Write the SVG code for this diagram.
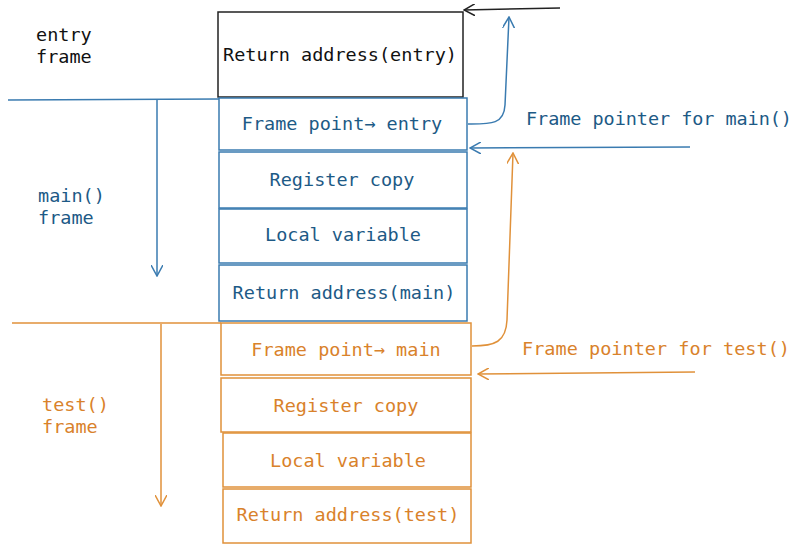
<svg xmlns="http://www.w3.org/2000/svg" width="800" height="549" viewBox="0 0 800 549">
<style>
text{font-family:"DejaVu Sans Mono","Liberation Mono",monospace;font-size:18.5px}
.k{fill:#111} .b{fill:#1d5a86} .o{fill:#d9822b}
.kb{fill:none;stroke:#222;stroke-width:1.5}
.bb{fill:none;stroke:#3a7bb0;stroke-width:1.5}
.ob{fill:none;stroke:#e0913a;stroke-width:1.5}
.m{text-anchor:middle}
</style>
<defs>
<marker id="ak" viewBox="0 0 12 12" refX="11" refY="6" markerWidth="12" markerHeight="12" markerUnits="userSpaceOnUse" orient="auto"><path d="M0,0 L11,6 L0,12" fill="none" stroke="#222" stroke-width="1.5"/></marker>
<marker id="ab" viewBox="0 0 12 12" refX="11" refY="6" markerWidth="12" markerHeight="12" markerUnits="userSpaceOnUse" orient="auto"><path d="M0,0 L11,6 L0,12" fill="none" stroke="#3a7bb0" stroke-width="1.5"/></marker>
<marker id="ao" viewBox="0 0 12 12" refX="11" refY="6" markerWidth="12" markerHeight="12" markerUnits="userSpaceOnUse" orient="auto"><path d="M0,0 L11,6 L0,12" fill="none" stroke="#e0913a" stroke-width="1.5"/></marker>
</defs>
<g id="labels">
<text class="k" x="36" y="41">entry</text><text class="k" x="36" y="63">frame</text>
<text class="b" x="38" y="202">main()</text><text class="b" x="38" y="224">frame</text>
<text class="o" x="42" y="411">test()</text><text class="o" x="42" y="433">frame</text>
<text class="b" x="526" y="125" textLength="266">Frame pointer for main()</text>
<text class="o" x="522" y="355" textLength="268">Frame pointer for test()</text>
</g>
<g id="n0"><rect class="kb" x="218" y="12" width="245" height="85"/><text class="k m" x="340" y="61">Return address(entry)</text></g>
<g id="n1"><rect class="bb" x="219" y="98" width="248" height="52"/><text class="b m" x="342" y="130">Frame point→ entry</text></g>
<g id="n2"><rect class="bb" x="219" y="152" width="248" height="56"/><text class="b m" x="342" y="186">Register copy</text></g>
<g id="n3"><rect class="bb" x="219" y="209" width="248" height="54"/><text class="b m" x="343" y="241">Local variable</text></g>
<g id="n4"><rect class="bb" x="219" y="265" width="248" height="56"/><text class="b m" x="344" y="299">Return address(main)</text></g>
<g id="n5"><rect class="ob" x="221" y="323" width="250" height="52"/><text class="o m" x="346" y="356">Frame point→ main</text></g>
<g id="n6"><rect class="ob" x="221" y="378" width="250" height="54"/><text class="o m" x="346" y="412">Register copy</text></g>
<g id="n7"><rect class="ob" x="223" y="433" width="248" height="54"/><text class="o m" x="348" y="467">Local variable</text></g>
<g id="n8"><rect class="ob" x="223" y="489" width="248" height="54"/><text class="o m" x="348" y="521">Return address(test)</text></g>
<g id="connectors">
<path class="kb" d="M560,8 L464,10" marker-end="url(#ak)"/>
<path class="bb" d="M8,100 L219,99"/>
<path class="bb" d="M157,100 L157,276" marker-end="url(#ab)"/>
<path class="bb" d="M468,124 C490,124 504,125 505,105 L509,17" marker-end="url(#ab)"/>
<path class="bb" d="M690,147 L470,148" marker-end="url(#ab)"/>
<path class="ob" d="M12,323 L221,323"/>
<path class="ob" d="M161,324 L161,506" marker-end="url(#ao)"/>
<path class="ob" d="M472,346 C495,346 506,342 507,320 L513,153" marker-end="url(#ao)"/>
<path class="ob" d="M695,372 L478,374" marker-end="url(#ao)"/>
</g>
</svg>
